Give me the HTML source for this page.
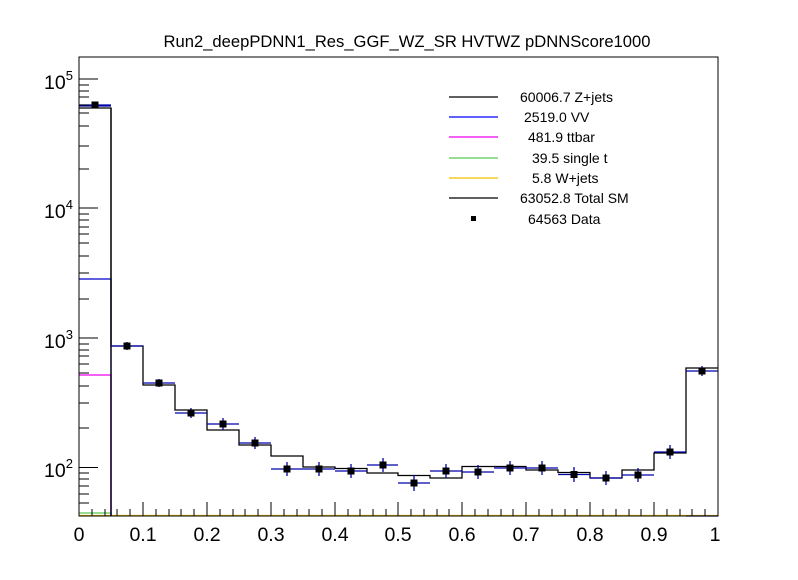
<!DOCTYPE html>
<html><head><meta charset="utf-8"><style>
body{margin:0;background:#fff}
svg text{font-family:"Liberation Sans",sans-serif}
</style></head><body>
<svg width="798" height="575" xmlns="http://www.w3.org/2000/svg">
<rect width="798" height="575" fill="#fff"/>
<text x="407" y="47" font-size="16.6" text-anchor="middle">Run2_deepPDNN1_Res_GGF_WZ_SR HVTWZ  pDNNScore1000</text>
<g fill="none" stroke-width="1.3">
<line x1="79" y1="515.5" x2="718" y2="515.5" stroke="#f0c000"/>
<path d="M79,513 H111 V516" stroke="#5c5"/>
<path d="M79,375 H111 V516" stroke="#e0e"/>
<path d="M79,279 H111 V516" stroke="#00c"/>
<line x1="686" y1="516" x2="718" y2="516" stroke="#00c"/>
<path d="M79,106 H111" stroke="#00a"/>
<path d="M79,108 H111 V346 H143 V385 H175 V410 H207 V430 H239 V445 H271 V456 H303 V467 H335 V468.5 H367 V473 H398 V475.5 H430 V478 H462 V466.5 H494 V466.5 H526 V470 H558 V472.5 H590 V478 H622 V470 H654 V453 H686 V368 H718" stroke="#000"/>
<path d="M111,108 V516" stroke="#000"/>
</g>
<g stroke="#00a" stroke-width="1.3">
<path d="M79,105H111 M111,346H143 M143,383H175 M175,413H207 M207,424H239 M239,443H271 M271,469H303 M303,469H335 M335,471H367 M367,465H398 M398,483H430 M430,471H462 M462,472H494 M494,468H526 M526,468H558 M558,474.5H590 M590,478H622 M622,475H654 M654,452H686 M686,371H718"/>
<path d="M95,102V108 M127,342V350 M159,379V387 M191,408V418 M223,418V430 M255,437V449 M287,462V476 M319,462V476 M351,464V478 M383,458V472 M414,475V491 M446,464V478 M478,465V479 M510,461V475 M542,461V475 M574,467V482 M606,471V485 M638,468V482 M670,445V459 M702,366V376"/>
</g>
<g fill="#000">
<rect x="91.5" y="101.5" width="7" height="7"/><rect x="123.5" y="342.5" width="7" height="7"/><rect x="155.5" y="379.5" width="7" height="7"/><rect x="187.5" y="409.5" width="7" height="7"/><rect x="219.5" y="420.5" width="7" height="7"/><rect x="251.5" y="439.5" width="7" height="7"/><rect x="283.5" y="465.5" width="7" height="7"/><rect x="315.5" y="465.5" width="7" height="7"/><rect x="347.5" y="467.5" width="7" height="7"/><rect x="379.5" y="461.5" width="7" height="7"/><rect x="410.5" y="479.5" width="7" height="7"/><rect x="442.5" y="467.5" width="7" height="7"/><rect x="474.5" y="468.5" width="7" height="7"/><rect x="506.5" y="464.5" width="7" height="7"/><rect x="538.5" y="464.5" width="7" height="7"/><rect x="570.5" y="471" width="7" height="7"/><rect x="602.5" y="474.5" width="7" height="7"/><rect x="634.5" y="471.5" width="7" height="7"/><rect x="666.5" y="448.5" width="7" height="7"/><rect x="698.5" y="367.5" width="7" height="7"/>
</g>
<rect x="79" y="57" width="639" height="459" fill="none" stroke="#000" stroke-width="1"/>
<g stroke="#000" stroke-width="1">
<path d="M79,79H98 M79,208H98 M79,338H98 M79,467.5H98"/>
<path d="M79,85H89 M79,91H89 M79,97H89 M79,105H89 M79,113H89 M79,126H89 M79,146H89 M79,169H89 M79,214H89 M79,220H89 M79,227H89 M79,234H89 M79,243H89 M79,256H89 M79,273H89 M79,299H89 M79,344H89 M79,350H89 M79,356H89 M79,364H89 M79,373H89 M79,386H89 M79,403H89 M79,428H89 M79,473H89 M79,479H89 M79,486H89 M79,494H89 M79,503H89"/>
<path d="M79,516V502 M143,516V502 M207,516V502 M271,516V502 M335,516V502 M398,516V502 M462,516V502 M526,516V502 M590,516V502 M654,516V502 M718,516V502"/>
<path d="M92,516V509 M105,516V509 M117,516V509 M130,516V509 M156,516V509 M169,516V509 M181,516V509 M194,516V509 M220,516V509 M233,516V509 M245,516V509 M258,516V509 M284,516V509 M297,516V509 M309,516V509 M322,516V509 M348,516V509 M360,516V509 M373,516V509 M386,516V509 M411,516V509 M424,516V509 M437,516V509 M449,516V509 M475,516V509 M488,516V509 M501,516V509 M513,516V509 M539,516V509 M552,516V509 M565,516V509 M577,516V509 M603,516V509 M616,516V509 M629,516V509 M641,516V509 M667,516V509 M680,516V509 M692,516V509 M705,516V509"/>
</g>
<g font-size="19.5">
<text x="79" y="541" text-anchor="middle">0</text>
<text x="143" y="541" text-anchor="middle">0.1</text>
<text x="207" y="541" text-anchor="middle">0.2</text>
<text x="271" y="541" text-anchor="middle">0.3</text>
<text x="335" y="541" text-anchor="middle">0.4</text>
<text x="398" y="541" text-anchor="middle">0.5</text>
<text x="462" y="541" text-anchor="middle">0.6</text>
<text x="526" y="541" text-anchor="middle">0.7</text>
<text x="590" y="541" text-anchor="middle">0.8</text>
<text x="654" y="541" text-anchor="middle">0.9</text>
<text x="715" y="541" text-anchor="middle">1</text>
<text x="44" y="89">10<tspan font-size="13" dy="-9">5</tspan></text>
<text x="44" y="218">10<tspan font-size="13" dy="-9">4</tspan></text>
<text x="44" y="348">10<tspan font-size="13" dy="-9">3</tspan></text>
<text x="44" y="477">10<tspan font-size="13" dy="-9">2</tspan></text>
</g>
<g stroke-width="1.2">
<line x1="449" y1="97" x2="498" y2="97" stroke="#000"/>
<line x1="449" y1="117" x2="498" y2="117" stroke="#00f"/>
<line x1="449" y1="137" x2="498" y2="137" stroke="#e0e"/>
<line x1="449" y1="158" x2="498" y2="158" stroke="#5c5"/>
<line x1="449" y1="178" x2="498" y2="178" stroke="#f0c000"/>
<line x1="449" y1="198" x2="498" y2="198" stroke="#000"/>
</g>
<rect x="471" y="216" width="5" height="5" fill="#000"/>
<g font-size="14">
<text x="520" y="102">60006.7 Z+jets</text>
<text x="524" y="122">2519.0 VV</text>
<text x="528" y="142">481.9 ttbar</text>
<text x="532" y="163">39.5 single t</text>
<text x="532" y="183">5.8 W+jets</text>
<text x="520" y="203">63052.8 Total SM</text>
<text x="528" y="224">64563 Data</text>
</g>
</svg>
</body></html>
